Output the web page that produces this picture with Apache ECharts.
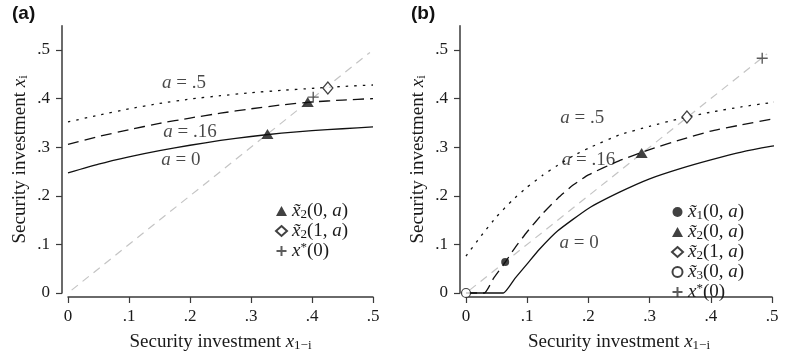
<!DOCTYPE html>
<html>
<head>
<meta charset="utf-8">
<script src="https://cdn.jsdelivr.net/npm/echarts@6/dist/echarts.min.js"></script>
<style>
  html, body { margin: 0; padding: 0; background: #fff; }
  #chart { width: 788px; height: 358px; }
</style>
</head>
<body>
<div id="chart"></div>
<script>
// 刻度
var xTicks = [0, 0.1, 0.2, 0.3, 0.4, 0.5];
var yTicks = [0, 0.1, 0.2, 0.3, 0.4, 0.5];

// 图 (a) 曲线
var xA = [0, 0.05, 0.1, 0.15, 0.2, 0.25, 0.3, 0.35, 0.4, 0.45, 0.5];
var a0A = [0.247, 0.265, 0.28, 0.293, 0.304, 0.314, 0.322, 0.329, 0.334, 0.338, 0.342];
var a16A = [0.306, 0.322, 0.336, 0.349, 0.36, 0.37, 0.379, 0.387, 0.393, 0.397, 0.40];
var a5A = [0.352, 0.366, 0.379, 0.39, 0.399, 0.406, 0.412, 0.417, 0.421, 0.425, 0.428];
var diagA = [-0.012, 0.495];

// 图 (b) 曲线
var xB0 = [0, 0.061, 0.08, 0.1, 0.12, 0.15, 0.2, 0.25, 0.3, 0.35, 0.4, 0.45, 0.5, 0.53];
var yB0 = [0, 0, 0.03, 0.06, 0.09, 0.128, 0.174, 0.207, 0.235, 0.256, 0.274, 0.29, 0.302, 0.308];
var xB16 = [0, 0.03, 0.045, 0.06, 0.08, 0.1, 0.125, 0.15, 0.175, 0.2, 0.25, 0.3, 0.35, 0.4, 0.45, 0.5, 0.53];
var yB16 = [0, 0, 0.03, 0.056, 0.093, 0.126, 0.163, 0.195, 0.222, 0.243, 0.272, 0.295, 0.315, 0.333, 0.346, 0.358, 0.366];
var xB5 = [0, 0.025, 0.05, 0.075, 0.1, 0.125, 0.15, 0.175, 0.2, 0.25, 0.3, 0.35, 0.4, 0.45, 0.5, 0.53];
var yB5 = [0.076, 0.118, 0.157, 0.19, 0.218, 0.242, 0.263, 0.282, 0.298, 0.325, 0.343, 0.359, 0.372, 0.383, 0.392, 0.397];
var diagB = [-0.012, 0.492];

// 标记点
var triA = [[0.327, 0.327], [0.393, 0.393]];
var diaA = [[0.426, 0.422]];
var plusA = [[0.402, 0.403]];
var dotB = [[0.064, 0.064]];
var triB = [[0.287, 0.288]];
var diaB = [[0.361, 0.362]];
var circB = [[0, 0]];
var plusB = [[0.484, 0.483]];

// 曲线标注
var curveNames = ['{i|a}{r| = 0}', '{i|a}{r| = .16}', '{i|a}{r| = .5}'];
var labelPosA = [[0.185, 0.274], [0.2, 0.331], [0.19, 0.432]];
var labelPosB = [[0.185, 0.103], [0.2, 0.274], [0.19, 0.36]];

// 图例文字
var legendText = {
  dot: '{x|x\u0303}{s|1}{r|(0, }{x|a}{r|)}',
  tri: '{x|x\u0303}{s|2}{r|(0, }{x|a}{r|)}',
  dia: '{x|x\u0303}{s|2}{r|(1, }{x|a}{r|)}',
  circ: '{x|x\u0303}{s|3}{r|(0, }{x|a}{r|)}',
  plus: '{x|x}{p|*}{r|(0)}'
};

var SERIF = 'Liberation Serif';
var INK = '#1a1a1a';
var AXIS = '#3a3a3a';
var PLUS_PATH = 'path://M0,5L10,5M5,0L5,10';

var mathRich = {
  r: { fontFamily: SERIF, fontSize: 19, color: INK, lineHeight: 20 },
  i: { fontFamily: SERIF, fontSize: 19, fontStyle: 'italic', color: INK, lineHeight: 20 },
  x: { fontFamily: SERIF, fontSize: 19, fontStyle: 'italic', color: INK, lineHeight: 20 },
  s: { fontFamily: SERIF, fontSize: 13, color: INK, lineHeight: 14, verticalAlign: 'bottom' },
  p: { fontFamily: SERIF, fontSize: 13, color: INK, lineHeight: 14, verticalAlign: 'top' }
};

function pairs(xs, ys) {
  return xs.map(function (x, i) { return [x, ys[i]]; });
}

function tickFmt(v) {
  if (Math.abs(v) < 1e-9) return '0';
  return String(+v.toFixed(1)).replace(/^0/, '');
}

function makeX(idx) {
  return {
    type: 'value', gridIndex: idx, min: 0, max: 0.5, interval: 0.1, offset: 4,
    splitLine: { show: false },
    axisLine: { show: true, onZero: false, lineStyle: { color: AXIS, width: 1.5 } },
    axisTick: { show: true, length: 6, lineStyle: { color: AXIS, width: 1.2 } },
    axisLabel: { margin: 11, fontFamily: SERIF, fontSize: 17, color: INK, formatter: tickFmt },
    name: '{r|Security investment }{x|x}{s|1\u2212i}',
    nameLocation: 'middle', nameGap: 35,
    nameTextStyle: { rich: mathRich }
  };
}

function makeY(idx) {
  return {
    type: 'value', gridIndex: idx, min: 0, max: 0.55, offset: 6,
    splitLine: { show: false },
    axisLine: { show: true, onZero: false, lineStyle: { color: AXIS, width: 1.5 } },
    axisTick: { show: true, length: 6, customValues: yTicks, lineStyle: { color: AXIS, width: 1.2 } },
    axisLabel: { margin: 12, customValues: yTicks, fontFamily: SERIF, fontSize: 17, color: INK, formatter: tickFmt },
    name: '{r|Security investment }{x|x}{s|i}',
    nameLocation: 'middle', nameGap: 32,
    nameTextStyle: { rich: mathRich }
  };
}

function curve(idx, data, type) {
  return {
    type: 'line', xAxisIndex: idx, yAxisIndex: idx, data: data,
    showSymbol: false, symbol: 'none', clip: false, smooth: 0.15, silent: true,
    lineStyle: { color: '#111', width: 1.3, type: type }
  };
}

function diag(idx, d) {
  return {
    type: 'line', xAxisIndex: idx, yAxisIndex: idx, data: [[d[0], d[0]], [d[1], d[1]]],
    symbol: 'none', clip: false, silent: true,
    lineStyle: { color: '#c4c4c4', width: 1.2, type: [8, 6] }
  };
}

function marks(idx, name, data, symbol, size, style) {
  return {
    type: 'scatter', name: name, xAxisIndex: idx, yAxisIndex: idx, data: data,
    symbol: symbol, symbolSize: size, clip: false, silent: true, z: 5,
    itemStyle: style
  };
}

function curveLabels(idx, pos) {
  return {
    type: 'scatter', xAxisIndex: idx, yAxisIndex: idx, symbolSize: 0, silent: true,
    data: pos.map(function (p, i) { return { value: p, text: curveNames[i] }; }),
    label: {
      show: true, position: 'inside',
      formatter: function (p) { return p.data.text; },
      rich: mathRich
    }
  };
}

var triStyle = { color: '#111' };
var diaStyle = { color: '#fff', borderColor: '#111', borderWidth: 1.3 };
var plusStyle = { color: 'none', borderColor: '#333', borderWidth: 1.4 };
var dotStyle = { color: '#111' };
var circStyle = { color: '#fff', borderColor: '#111', borderWidth: 1.2 };

function legendBox(left, top, names) {
  return {
    orient: 'vertical', left: left, top: top, padding: 0, itemGap: 0,
    itemWidth: 11, itemHeight: 10, selectedMode: false,
    data: names,
    formatter: function (n) { return legendText[n]; },
    textStyle: { rich: mathRich, lineHeight: 19.5 }
  };
}

var chart = echarts.init(document.getElementById('chart'), null, { renderer: 'canvas' });

chart.setOption({
  animation: false,
  backgroundColor: '#fff',
  title: [
    { text: '(a)', left: 12, top: 4, padding: 0, textStyle: { fontFamily: 'Liberation Sans', fontWeight: 'bold', fontSize: 19, color: '#111' } },
    { text: '(b)', left: 411, top: 4, padding: 0, textStyle: { fontFamily: 'Liberation Sans', fontWeight: 'bold', fontSize: 19, color: '#111' } }
  ],
  grid: [
    { left: 68, width: 305, top: 25.7, height: 267.3, outerBoundsMode: 'none', containLabel: false },
    { left: 466, width: 306, top: 25.7, height: 267.3, outerBoundsMode: 'none', containLabel: false }
  ],
  legend: [
    legendBox(274, 201, [
      { name: 'tri', icon: 'triangle' },
      { name: 'dia', icon: 'diamond' },
      { name: 'plus', icon: PLUS_PATH }
    ]),
    legendBox(670, 202, [
      { name: 'dot', icon: 'circle' },
      { name: 'tri', icon: 'triangle' },
      { name: 'dia', icon: 'diamond' },
      { name: 'circ', icon: 'circle' },
      { name: 'plus', icon: PLUS_PATH }
    ])
  ],
  xAxis: [makeX(0), makeX(1)],
  yAxis: [makeY(0), makeY(1)],
  series: [
    diag(0, diagA),
    curve(0, pairs(xA, a0A), 'solid'),
    curve(0, pairs(xA, a16A), [11, 6]),
    curve(0, pairs(xA, a5A), [2.5, 6]),
    marks(0, 'tri', triA, 'triangle', [12, 10], triStyle),
    marks(0, 'dia', diaA, 'diamond', [10, 12], diaStyle),
    marks(0, 'plus', plusA, PLUS_PATH, 11, plusStyle),
    curveLabels(0, labelPosA),

    diag(1, diagB),
    curve(1, pairs(xB0, yB0), 'solid'),
    curve(1, pairs(xB16, yB16), [11, 6]),
    curve(1, pairs(xB5, yB5), [2.5, 6]),
    marks(1, 'dot', dotB, 'circle', 8, dotStyle),
    marks(1, 'tri', triB, 'triangle', [12, 10], triStyle),
    marks(1, 'dia', diaB, 'diamond', [10, 12], diaStyle),
    marks(1, 'circ', circB, 'circle', 9, circStyle),
    marks(1, 'plus', plusB, PLUS_PATH, 11, plusStyle),
    curveLabels(1, labelPosB)
  ]
});
</script>
</body>
</html>
